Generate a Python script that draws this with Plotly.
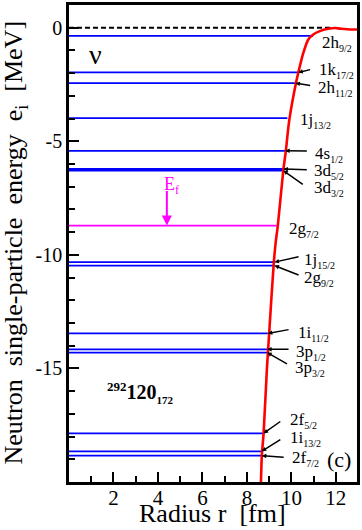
import plotly.graph_objects as go

# ---------------- data ----------------
level_names = ["2h", "1k", "2h", "1j", "4s", "3d", "3d", "2g", "1j", "2g", "1i", "3p", "3p", "2f", "1i", "2f"]
level_j = ["9/2", "17/2", "11/2", "13/2", "1/2", "5/2", "3/2", "7/2", "15/2", "9/2", "11/2", "1/2", "3/2", "5/2", "13/2", "7/2"]
level_energy = [-0.36, -1.97, -2.44, -3.98, -5.42, -6.22, -6.29, -8.71, -10.32, -10.47, -13.46, -14.16, -14.30, -17.86, -18.65, -18.84]
level_r_end = [10.98, 10.31, 10.18, 9.82, 9.72, 9.64, 9.64, 9.34, 9.24, 9.24, 8.94, 8.91, 8.91, 8.75, 8.67, 8.67]
fermi_level_index = 7

pot_r = [8.60, 8.63, 8.67, 8.75, 8.90, 9.00, 9.21, 9.30, 9.39, 9.64, 9.75, 9.90, 10.21, 10.31, 10.54,
         10.76, 10.98, 11.28, 11.65, 11.95, 12.20, 12.50, 12.95]
pot_V = [-20.6, -20.0, -18.85, -17.86, -15.0, -13.47, -10.33, -9.40, -8.71, -6.25, -5.43, -4.10, -2.41, -1.98, -1.10,
         -0.52, -0.30, -0.15, -0.05, -0.01, -0.04, -0.07, -0.08]

x_tick_vals = [2, 4, 6, 8, 10, 12]
y_tick_vals = [0, -5, -10, -15]
y_tick_text = ["0", "-5", "-10", "-15"]

# label placement (layout): left edge / vertical centre of each level label
label_pos_r = [11.30, 11.13, 11.09, 10.31, 10.98, 10.91, 10.91, 9.79, 10.46, 10.46, 10.21, 10.13, 10.09, 9.83, 9.83, 9.94]
label_pos_e = [-0.71, -1.89, -2.67, -4.07, -5.56, -6.35, -7.09, -8.89, -10.24, -11.03, -13.48, -14.31, -15.01, -17.29, -18.07, -18.95]
# arrow tails (layout), None = no arrow
arrow_tail_r = [None, 10.91, 10.91, None, 10.76, 10.76, 10.58, None, 10.39, 10.39, 9.94, 9.94, 9.87, 9.57, 9.57, 9.72]
arrow_tail_e = [None, -1.83, -2.56, None, -5.43, -6.26, -6.94, None, -10.07, -10.91, -13.28, -14.15, -14.84, -17.29, -18.09, -18.92]

FONT = "Liberation Serif"
BLUE = "#0000ff"
MAG = "#ff00ff"

fig = go.Figure()

# zero line (dashed)
fig.add_trace(go.Scatter(x=[0, 11.8], y=[0, 0], mode="lines",
                         line=dict(color="black", width=2, dash="5px,3px"),
                         hoverinfo="skip", showlegend=False))

# levels
bx, by, mx, my = [], [], [], []
for i, (e, re) in enumerate(zip(level_energy, level_r_end)):
    if i == fermi_level_index:
        mx += [0, re, None]
        my += [e, e, None]
    else:
        bx += [0, re, None]
        by += [e, e, None]
fig.add_trace(go.Scatter(x=bx, y=by, mode="lines", line=dict(color=BLUE, width=1.8),
                         hoverinfo="skip", showlegend=False))
fig.add_trace(go.Scatter(x=mx, y=my, mode="lines", line=dict(color=MAG, width=1.8),
                         hoverinfo="skip", showlegend=False))

# potential
fig.add_trace(go.Scatter(x=pot_r, y=pot_V, mode="lines", line=dict(color="red", width=2.6, shape="spline", smoothing=0.8),
                         hoverinfo="skip", showlegend=False))

ann = []
for i in range(len(level_names)):
    txt = f"{level_names[i]}<sub><span style='font-size:10px'>{level_j[i]}</span></sub>"
    ann.append(dict(x=label_pos_r[i], y=label_pos_e[i], xref="x", yref="y", text=txt,
                    showarrow=False, xanchor="left", yanchor="middle",
                    font=dict(family=FONT, size=17, color="black")))
    if arrow_tail_r[i] is not None:
        ann.append(dict(x=level_r_end[i], y=level_energy[i], ax=arrow_tail_r[i], ay=arrow_tail_e[i],
                        xref="x", yref="y", axref="x", ayref="y", text="", showarrow=True,
                        arrowhead=2, arrowsize=0.6, arrowwidth=1.5, arrowcolor="black", standoff=0))

# Fermi level arrow + label
ann.append(dict(x=4.40, y=level_energy[fermi_level_index], ax=4.40, ay=-7.12, xref="x", yref="y",
                axref="x", ayref="y", text="", showarrow=True, arrowhead=2, arrowsize=1.0,
                arrowwidth=2, arrowcolor=MAG, standoff=0))
ann.append(dict(x=4.60, y=-6.95, xref="x", yref="y", text="E<sub><span style='font-size:12px'>f</span></sub>",
                showarrow=False, xanchor="center", yanchor="middle", font=dict(family=FONT, size=18, color=MAG)))

# nu
ann.append(dict(x=1.19, y=-1.19, xref="x", yref="y", text="ν", showarrow=False,
                xanchor="center", yanchor="middle", font=dict(family=FONT, size=28, color="black")))
# nucleus
ann.append(dict(x=1.60, y=-16.05, xref="x", yref="y",
                text="<b><sup><span style='font-size:13px'>292</span></sup>120<sub><span style='font-size:11px'>172</span></sub></b>",
                showarrow=False, xanchor="left", yanchor="middle", font=dict(family=FONT, size=20, color="black")))
# panel label
ann.append(dict(x=12.12, y=-19.0, xref="x", yref="y", text="(c)", showarrow=False,
                xanchor="center", yanchor="middle", font=dict(family=FONT, size=22, color="black")))

# axis titles
ann.append(dict(x=-0.186, y=0.503, xref="paper", yref="paper", textangle=-90,
                text="Neutron\u00a0 single-particle\u00a0 energy\u00a0 e<sub>i</sub>\u00a0 [MeV]",
                showarrow=False, xanchor="center", yanchor="middle", font=dict(family=FONT, size=26, color="black")))
ann.append(dict(x=0.498, y=-0.1, xref="paper", yref="paper",
                text="Radius r\u00a0 [fm]", showarrow=False, xanchor="center", yanchor="bottom",
                font=dict(family=FONT, size=26, color="black")))

fig.update_layout(
    width=362, height=530,
    margin=dict(l=69, r=3, t=2, b=48),
    plot_bgcolor="white", paper_bgcolor="white",
    annotations=ann,
    showlegend=False,
)
fig.update_xaxes(range=[0, 12.95], showgrid=False, zeroline=False,
                 showline=True, linewidth=2.6, linecolor="black", mirror=True,
                 ticks="inside", ticklen=10, tickwidth=2, tickcolor="black",
                 tickvals=x_tick_vals, tickfont=dict(family=FONT, size=21, color="black"),
                 ticklabelstandoff=-5,
                 minor=dict(ticks="inside", ticklen=6, tickwidth=2, tickcolor="black", dtick=1, tick0=0))
fig.update_yaxes(range=[-20, 1], showgrid=False, zeroline=False,
                 showline=True, linewidth=2.6, linecolor="black", mirror=True,
                 ticks="inside", ticklen=10, tickwidth=2, tickcolor="black",
                 tickvals=y_tick_vals, ticktext=y_tick_text, tickfont=dict(family=FONT, size=20, color="black"),
                 minor=dict(ticks="inside", ticklen=6, tickwidth=2, tickcolor="black", dtick=1, tick0=0))

fig.write_html("out.html", config={"displayModeBar": False},
               post_script="document.body.style.margin='0px';document.body.style.padding='0px';document.body.style.overflow='hidden';")
